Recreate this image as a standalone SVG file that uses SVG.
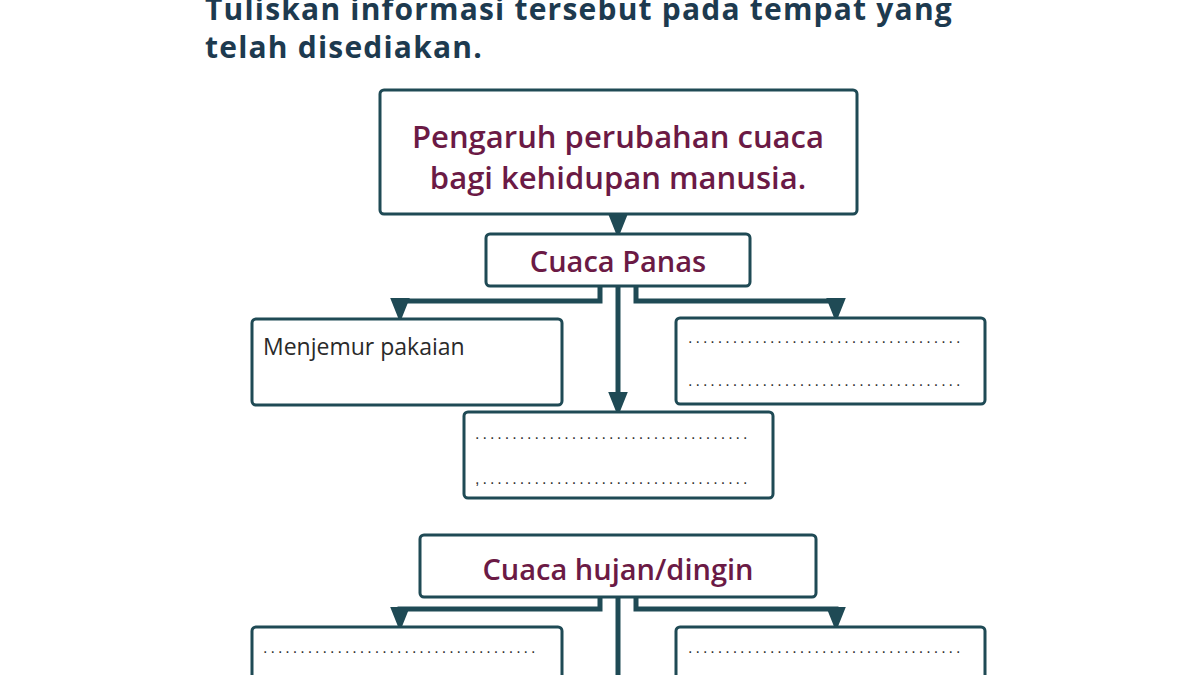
<svg xmlns="http://www.w3.org/2000/svg" width="1200" height="675" viewBox="0 0 1200 675">
<style>
.box{fill:#fff;stroke:#1f4a55;stroke-width:3}
.t{font-family:"Open Sans","Liberation Sans",sans-serif;font-weight:600;fill:#6b1a45;text-anchor:middle}
.h{font-family:"Open Sans","Liberation Sans",sans-serif;font-weight:700;fill:#1d3a4f;font-size:30px;letter-spacing:1.2px}
.d{font-family:"Liberation Sans",sans-serif;fill:#333;font-size:16px;letter-spacing:3px}
.c{fill:none;stroke:#1f4a55;stroke-width:5}
</style>
<defs><marker id="a" markerWidth="5" markerHeight="4" refX="2.5" refY="2" orient="auto" markerUnits="strokeWidth"><path d="M0,0L5,2L0,4z" fill="#1f4a55"/></marker></defs>
<rect width="1200" height="675" fill="#fff"/>
<text class="h" x="205" y="20">Tuliskan informasi tersebut pada tempat yang</text>
<text class="h" x="205" y="58">telah disediakan.</text>
<g id="connectors">
<path class="c" d="M618,214V226" marker-end="url(#a)"/>
<path class="c" d="M600,286V301H400V310" marker-end="url(#a)"/>
<path class="c" d="M636,286V301H836V310" marker-end="url(#a)"/>
<path class="c" d="M618,286V404" marker-end="url(#a)"/>
<path class="c" d="M600,597V609H400V619" marker-end="url(#a)"/>
<path class="c" d="M636,597V609H836V619" marker-end="url(#a)"/>
<path class="c" d="M618,597V675"/>
</g>
<g id="n1"><rect class="box" x="380" y="90" width="477" height="124" rx="4"/><text class="t" x="618" y="148" font-size="31">Pengaruh perubahan cuaca</text><text class="t" x="618" y="189" font-size="31">bagi kehidupan manusia.</text></g>
<g id="n2"><rect class="box" x="486" y="234" width="264" height="52" rx="4"/><text class="t" x="618" y="272" font-size="29">Cuaca Panas</text></g>
<g id="n3"><rect class="box" x="252" y="319" width="310" height="86" rx="4"/><text x="263" y="355" font-family="Open Sans,Liberation Sans,sans-serif" font-size="23" fill="#2a2a2a">Menjemur pakaian</text></g>
<g id="n4"><rect class="box" x="676" y="318" width="309" height="86" rx="4"/><text class="d" x="688" y="343">.....................................</text><text class="d" x="688" y="386">.....................................</text></g>
<g id="n5"><rect class="box" x="464" y="412" width="309" height="86" rx="4"/><text class="d" x="475" y="439">.....................................</text><text class="d" x="475" y="484">,....................................</text></g>
<g id="n6"><rect class="box" x="420" y="535" width="396" height="62" rx="4"/><text class="t" x="618" y="580" font-size="29">Cuaca hujan/dingin</text></g>
<g id="n7"><rect class="box" x="252" y="627" width="310" height="80" rx="4"/><text class="d" x="263" y="653">.....................................</text></g>
<g id="n8"><rect class="box" x="676" y="627" width="309" height="80" rx="4"/><text class="d" x="688" y="653">.....................................</text></g>
</svg>
